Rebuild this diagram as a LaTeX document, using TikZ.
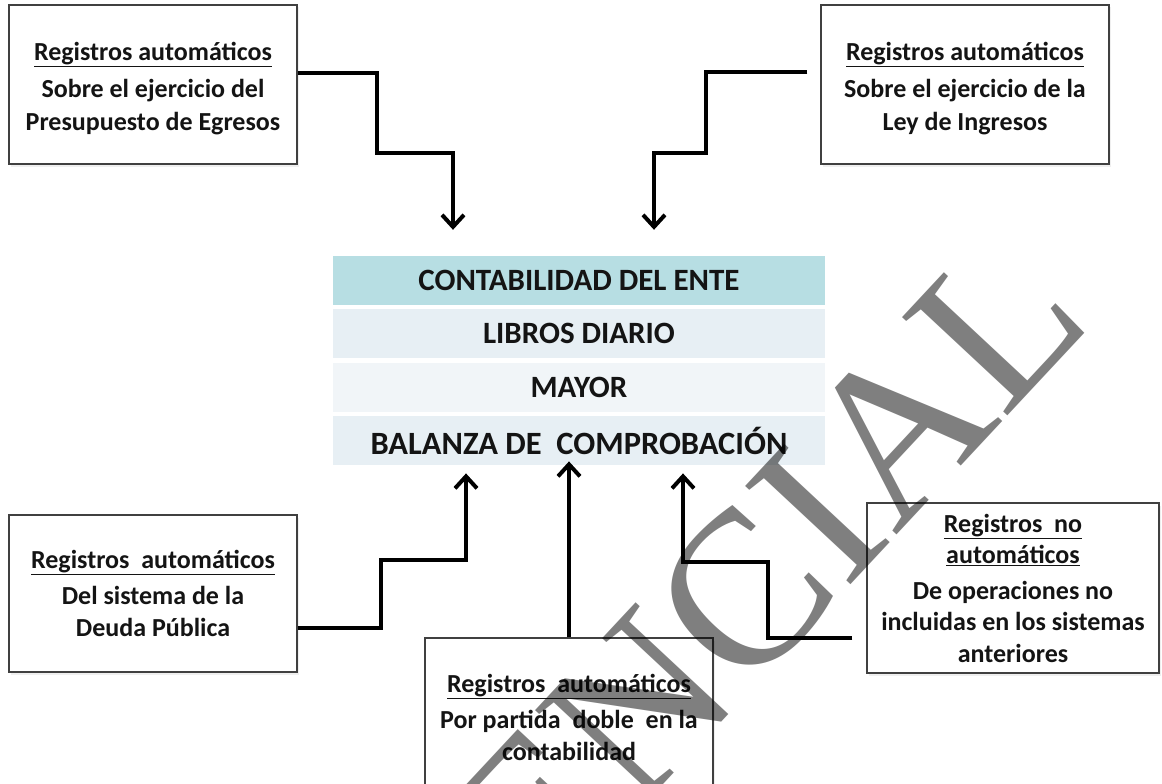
\documentclass[tikz,border=0pt]{standalone}
\usepackage{fontspec}
\setmainfont{Carlito}
\newfontfamily\marcafont{Liberation Serif}
\usetikzlibrary{arrows.meta,positioning,shadows}

\definecolor{cabecera}{RGB}{183,222,227}
\definecolor{filaA}{RGB}{231,239,244}
\definecolor{filaB}{RGB}{241,245,248}
\definecolor{borde}{RGB}{64,64,64}
\definecolor{texto}{RGB}{20,20,20}

\begin{document}
\begin{tikzpicture}[x=1pt, y=-1pt,
  caja/.style={draw=borde, line width=1.5pt, fill=white, minimum width=288pt,
    inner sep=0pt, align=center, text=texto,
    font=\bfseries\fontsize{26}{33}\selectfont,
    drop shadow={opacity=0.12, shadow xshift=1.5pt, shadow yshift=-2.5pt}},
  fila/.style={minimum width=492pt, minimum height=49pt, inner sep=0pt,
    text=texto, font=\bfseries\fontsize{31}{36}\selectfont},
  linea/.style={line width=4pt, -{Straight Barb[length=12pt,width=22pt]}},
]

\useasboundingbox (0,0) rectangle (1162,784);
\clip (0,0) rectangle (1162,784);
\fill[white] (0,0) rectangle (1162,784);

% cajas de registros
\node[caja, minimum height=159pt] (egresos) at (153,84.5)
  {\rule{0pt}{26pt}\underline{Registros automáticos}\\[4pt] Sobre el ejercicio del\\ Presupuesto de Egresos};
\node[caja, minimum height=159pt] (ingresos) at (965,84.5)
  {\rule{0pt}{26pt}\underline{Registros automáticos}\\[4pt] Sobre el ejercicio de la\\ Ley de Ingresos};
\node[caja, minimum height=157pt, font=\bfseries\fontsize{26}{32}\selectfont] (deuda) at (153,593.5)
  {\underline{Registros~ automáticos}\\[4pt] Del sistema de la\\ Deuda Pública};
\node[caja, minimum height=159pt, font=\bfseries\fontsize{26}{32}\selectfont] (partida) at (569,717.5)
  {\underline{Registros~ automáticos}\\[4pt] Por partida~ doble~ en la\\ contabilidad};
\node[caja, minimum width=292pt, minimum height=170pt, font=\bfseries\fontsize{26}{31.5}\selectfont] (anteriores) at (1013,588)
  {\underline{Registros~ no}\\ \underline{automáticos}\\[4pt] De operaciones no\\ incluidas en los sistemas\\ anteriores};

% tabla central
\node[fila, fill=cabecera] (ente) at (579,280.5) {CONTABILIDAD DEL ENTE};
\node[fila, fill=filaA, below=4pt of ente] (diario) {LIBROS DIARIO};
\node[fila, fill=filaB, below=4pt of diario] (mayor) {MAYOR};
\node[fila, fill=filaA, below=4pt of mayor, font=\bfseries\fontsize{32.5}{36}\selectfont] (balanza) {BALANZA DE~ COMPROBACIÓN};

% conectores
\draw[linea] ([yshift=11.5pt]egresos.east) -| (377,153) -| ([xshift=-126pt,yshift=26pt]ente.north);
\draw[linea] ([xshift=-13pt,yshift=12.5pt]ingresos.west) -| (706,153) -| ([xshift=75pt,yshift=26pt]ente.north);
\draw[linea] ([yshift=-34.5pt]deuda.east) -| (381,560) -| ([xshift=-113pt,yshift=-8pt]balanza.south);
\draw[linea] (partida.north) -- ([xshift=-10pt,yshift=4pt]balanza.south);
\draw[linea] ([xshift=-14pt,yshift=-50pt]anteriores.west) -| (768,562) -| ([xshift=104pt,yshift=-8pt]balanza.south);

% marca de agua
\node[anchor=base west, rotate=47, inner sep=0pt, text=black, text opacity=0.5,
  font=\marcafont\fontsize{220}{220}\selectfont] (marca) at (545,912) {ENCIAL};

\end{tikzpicture}
\end{document}
